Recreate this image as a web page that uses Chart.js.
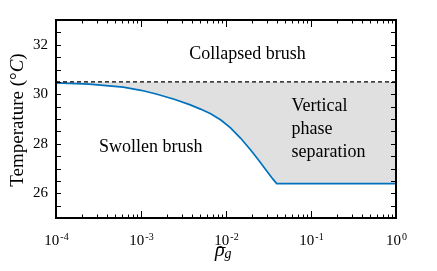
<!DOCTYPE html>
<html>
<head>
<meta charset="utf-8">
<script src="https://cdn.jsdelivr.net/npm/chart.js@4/dist/chart.umd.min.js"></script>
<style>
  body { margin: 0; background: #fff; }
  #wrap { width: 437px; height: 271px; }
</style>
</head>
<body>
<div id="wrap"><canvas id="phase-chart"></canvas></div>
<script>
// grafting density (x) and phase boundary temperature (°C)
const rho = [1e-4, 2.45e-4, 6.17e-4, 1e-3, 1.51e-3, 2.51e-3, 3.8e-3, 5.01e-3, 6.6e-3, 8.7e-3,
  1.13e-2, 1.48e-2, 1.95e-2, 2.45e-2, 3.06e-2, 3.55e-2, 3.95e-2, 1];
const boundaryTemp = [30.46, 30.41, 30.29, 30.16, 30.01, 29.79, 29.57, 29.40, 29.21, 28.96,
  28.64, 28.23, 27.75, 27.31, 26.87, 26.58, 26.39, 26.39];
const collapseTemp = 30.5;
const xDecades = [-4, -3, -2, -1, 0];
const yTicks = [26, 28, 30, 32];

const SERIF = '"Liberation Serif", "Times New Roman", serif';

const frame = {
  id: "frame",
  afterDatasetsDraw(chart) {
    const { ctx, chartArea: a, scales: { x, y } } = chart;
    ctx.save();
    ctx.strokeStyle = "#000";
    ctx.fillStyle = "#000";

    // inward ticks, all four sides
    ctx.lineWidth = 1;
    ctx.beginPath();
    xDecades.forEach((k, i) => {
      const px = Math.round(x.getPixelForValue(Math.pow(10, k))) + 0.5;
      ctx.moveTo(px, a.bottom); ctx.lineTo(px, a.bottom - 7);
      ctx.moveTo(px, a.top); ctx.lineTo(px, a.top + 7);
      if (i < xDecades.length - 1) {
        for (let m = 2; m <= 9; m++) {
          const pm = Math.round(x.getPixelForValue(m * Math.pow(10, k))) + 0.5;
          ctx.moveTo(pm, a.bottom); ctx.lineTo(pm, a.bottom - 3.5);
          ctx.moveTo(pm, a.top); ctx.lineTo(pm, a.top + 3.5);
        }
      }
    });
    for (let t = 25.5; t < 33; t += 0.5) {
      const py = Math.round(y.getPixelForValue(t)) + 0.5;
      ctx.moveTo(a.left, py); ctx.lineTo(a.left + 5, py);
      ctx.moveTo(a.right, py); ctx.lineTo(a.right - 5, py);
    }
    ctx.stroke();

    ctx.lineWidth = 2;
    ctx.strokeRect(a.left, a.top, a.right - a.left, a.bottom - a.top);

    // x tick labels 10^k
    xDecades.forEach(k => {
      const px = x.getPixelForValue(Math.pow(10, k));
      ctx.font = "15px " + SERIF;
      const wb = ctx.measureText("10").width;
      ctx.font = "10px " + SERIF;
      const exp = String(k);
      const we = ctx.measureText(exp).width;
      const x0 = px - (wb + we) / 2;
      ctx.textAlign = "left";
      ctx.textBaseline = "alphabetic";
      ctx.font = "15px " + SERIF;
      ctx.fillText("10", x0, a.bottom + 27);
      ctx.font = "10px " + SERIF;
      ctx.fillText(exp, x0 + wb + 1, a.bottom + 22);
    });

    // x axis title: rho bar with subscript g
    const cx = (a.left + a.right) / 2 - 11;
    ctx.font = "italic 20px " + SERIF;
    const wr = ctx.measureText("\u03c1").width;
    ctx.fillText("\u03c1", cx, a.bottom + 38);
    ctx.lineWidth = 1;
    ctx.beginPath();
    ctx.moveTo(cx + 2, a.bottom + 29.5);
    ctx.lineTo(cx + wr + 1, a.bottom + 29.5);
    ctx.stroke();
    ctx.font = "italic 14px " + SERIF;
    ctx.fillText("g", cx + wr, a.bottom + 40);

    // y axis title
    ctx.save();
    ctx.translate(23, (a.top + a.bottom) / 2 + 1);
    ctx.rotate(-Math.PI / 2);
    const parts = [["Temperature (\u00b0", "19px "], ["C", "italic 19px "], [")", "19px "]];
    let total = 0;
    parts.forEach(p => { ctx.font = p[1] + SERIF; total += ctx.measureText(p[0]).width; });
    let tx = -total / 2;
    parts.forEach(p => {
      ctx.font = p[1] + SERIF;
      ctx.fillText(p[0], tx, 0);
      tx += ctx.measureText(p[0]).width;
    });
    ctx.restore();

    // region labels
    ctx.font = "18px " + SERIF;
    ctx.textAlign = "center";
    ctx.fillText("Collapsed brush", x.getPixelForValue(0.0179), y.getPixelForValue(31.44));
    ctx.fillText("Swollen brush", x.getPixelForValue(1.3e-3), y.getPixelForValue(27.67));
    ctx.textAlign = "left";
    const vx = x.getPixelForValue(0.059);
    const vy = y.getPixelForValue(29.32);
    ["Vertical", "phase", "separation"].forEach((s, i) => ctx.fillText(s, vx, vy + i * 23));

    ctx.restore();
  }
};

new Chart(document.getElementById("phase-chart"), {
  type: "line",
  data: {
    datasets: [
      {
        label: "collapse",
        data: rho.map(r => ({ x: r, y: collapseTemp })),
        borderColor: "#000",
        borderWidth: 1.4,
        borderDash: [4, 3],
        pointRadius: 0,
        fill: false
      },
      {
        label: "boundary",
        data: rho.map((r, i) => ({ x: r, y: boundaryTemp[i] })),
        borderColor: "#0072bd",
        borderWidth: 1.7,
        pointRadius: 0,
        tension: 0,
        fill: { target: 0 },
        backgroundColor: "#e0e0e0"
      }
    ]
  },
  options: {
    responsive: true,
    maintainAspectRatio: false,
    animation: false,
    layout: { padding: { top: 20, right: 41, left: 0, bottom: 0 } },
    scales: {
      x: {
        type: "logarithmic",
        min: 1e-4,
        max: 1,
        grid: { display: false, drawTicks: false },
        border: { display: false },
        ticks: { display: false },
        afterFit: s => { s.height = 53; }
      },
      y: {
        min: 25,
        max: 33,
        grid: { display: false, drawTicks: false },
        border: { display: false },
        afterBuildTicks: s => { s.ticks = yTicks.map(v => ({ value: v })); },
        ticks: {
          color: "#000",
          padding: 8,
          font: { family: "Liberation Serif", size: 15 }
        },
        afterFit: s => { s.width = 56; }
      }
    },
    plugins: {
      legend: { display: false },
      tooltip: { enabled: false }
    }
  },
  plugins: [frame]
});
</script>
</body>
</html>
